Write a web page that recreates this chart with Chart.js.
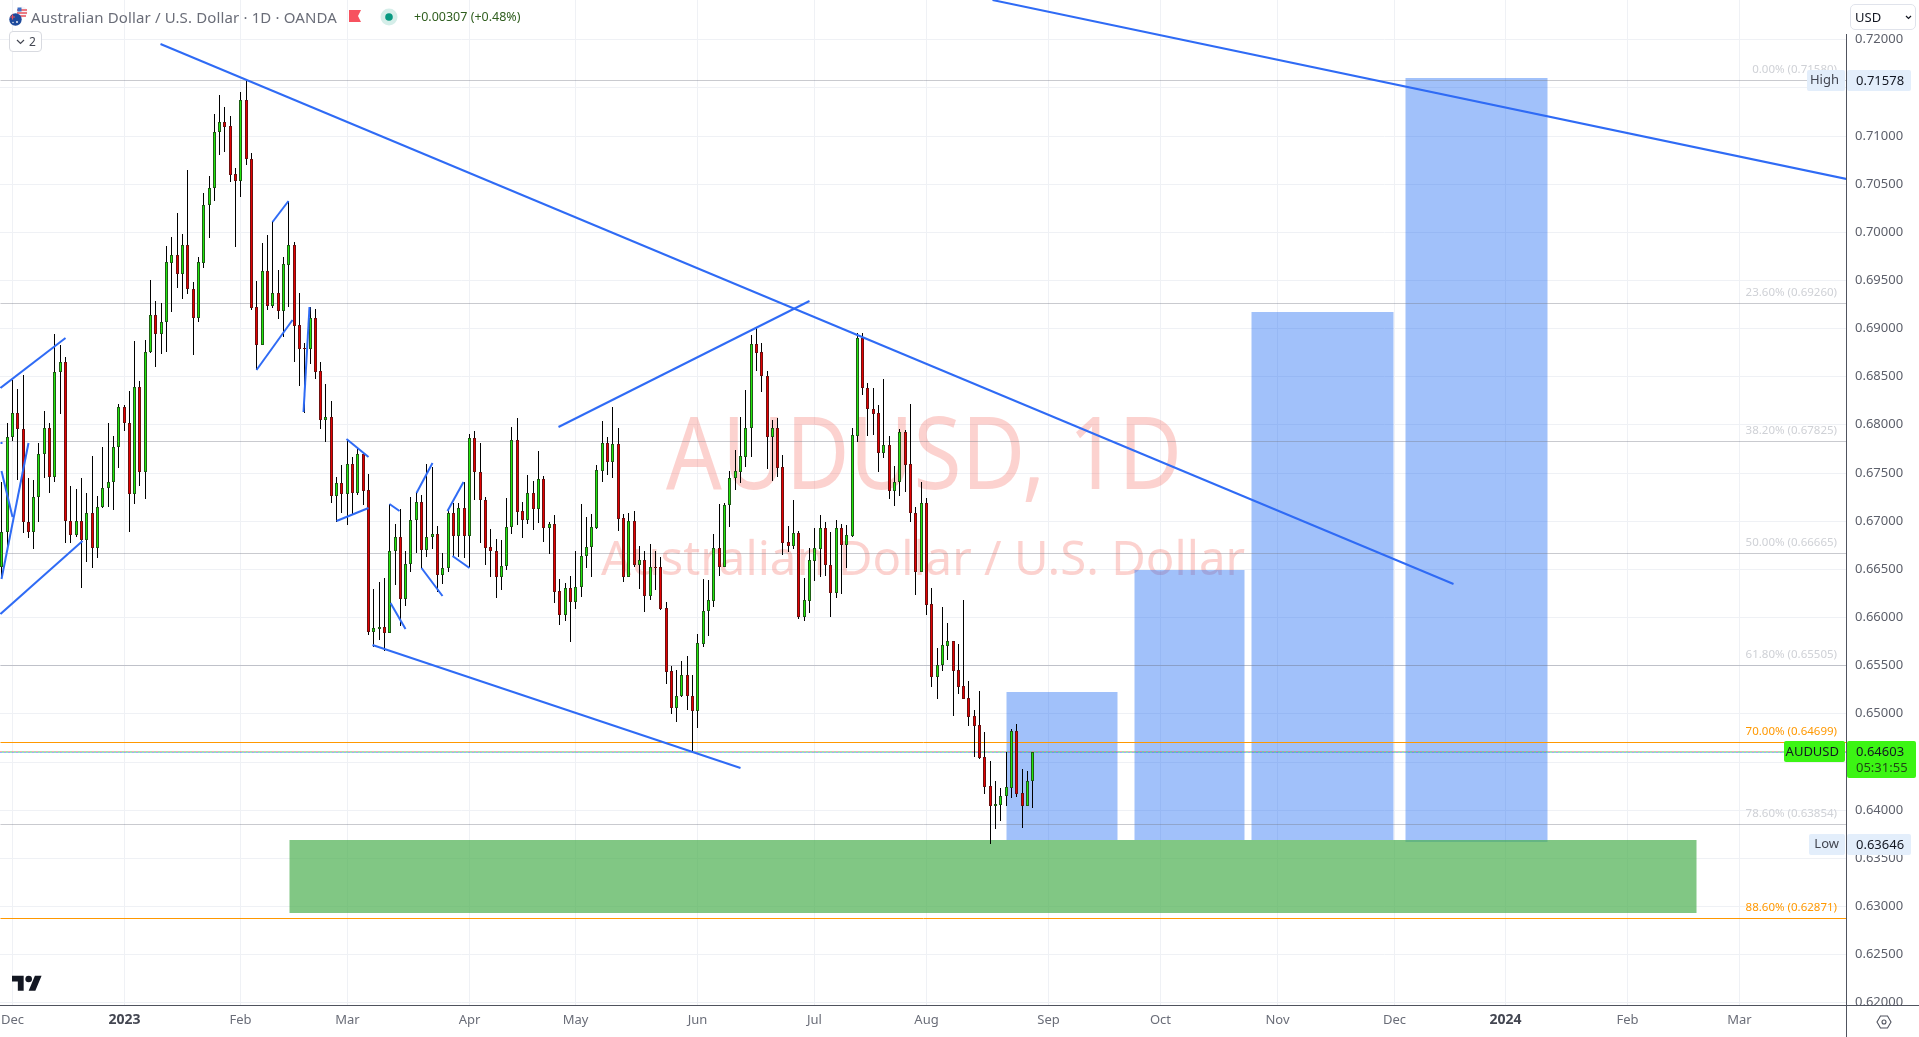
<!DOCTYPE html>
<html>
<head>
<meta charset="utf-8">
<title>AUDUSD</title>
<script src="https://cdn.jsdelivr.net/npm/chart.js@4"></script>
<style>
  html, body { margin: 0; padding: 0; background: #fff; overflow: hidden; }
  body { width: 1919px; height: 1037px; position: relative; font-family: "Noto Sans", sans-serif; }
  canvas { position: absolute; left: 0; top: 0; }
  .over { position: absolute; white-space: nowrap; }
</style>
</head>
<body>
<canvas id="chart" width="1919" height="1037"></canvas>

<!-- symbol header -->
<svg class="over" style="left:8px;top:5px" width="22" height="22" viewBox="0 0 22 22">
  <circle cx="14" cy="7" r="5.5" fill="#f4f4f8"/>
  <path d="M9 5h10M9 8h10M10 11h8" stroke="#e8505b" stroke-width="1.4"/>
  <path d="M9.5 2.5h4v4h-4z" fill="#3f6fc4"/>
  <circle cx="7.5" cy="14.5" r="6.2" fill="#1e4a9c"/>
  <path d="M2 12h5M4.5 9.5v5" stroke="#e8505b" stroke-width="1.2"/>
  <circle cx="9" cy="17" r=".9" fill="#fff"/><circle cx="5" cy="17.5" r=".7" fill="#fff"/>
</svg>
<div class="over" style="left:31px;top:7px;font-size:15px;letter-spacing:.14px;line-height:20px;color:#6a6d78;">Australian Dollar / U.S. Dollar · 1D · OANDA</div>
<svg class="over" style="left:349px;top:10px" width="13" height="12"><path d="M0 0H12L9 6L12 12H0Z" fill="#f7525f"/></svg>
<svg class="over" style="left:380px;top:8px" width="18" height="18"><circle cx="9" cy="9" r="8.5" fill="#d5eee9"/><circle cx="9" cy="9" r="3.8" fill="#089981"/></svg>
<div class="over" style="left:414px;top:8px;font-size:12.5px;line-height:18px;color:#2f5e1e;">+0.00307 (+0.48%)</div>
<div class="over" style="left:9px;top:31px;width:31px;height:19px;border:1px solid #d8dae0;border-radius:4px;background:#fff;font-size:12px;line-height:19px;color:#434651;">
  <svg style="position:absolute;left:6px;top:7px" width="9" height="6"><path d="M1 1L4.5 4.5L8 1" fill="none" stroke="#434651" stroke-width="1.2"/></svg>
  <span style="position:absolute;left:19px;top:0">2</span>
</div>

<!-- currency button -->
<div class="over" style="left:1850px;top:4px;width:64px;height:24px;border:1px solid #e0e3eb;border-radius:5px;background:#fff;font-size:13px;line-height:24px;color:#131722;">
  <span style="position:absolute;left:4px;top:0">USD</span>
  <svg style="position:absolute;left:54px;top:10px" width="7" height="5"><path d="M1 1L3.5 3.5L6 1" fill="none" stroke="#131722" stroke-width="1.2"/></svg>
</div>

<!-- logo and settings -->
<svg class="over" style="left:12px;top:972px" width="30" height="24" viewBox="0 0 36 28"><path fill="#131722" d="M14 22H7V11H0V4h14v18zM28 22h-8l7.5-18h8L28 22z"/><circle fill="#131722" cx="20" cy="8" r="4"/></svg>
<svg class="over" style="left:1876px;top:1014px" width="16" height="16" viewBox="0 0 16 16"><path d="M4.5 2h7L15 8l-3.5 6h-7L1 8z" fill="none" stroke="#50535e" stroke-width="1.1"/><circle cx="8" cy="8" r="2" fill="none" stroke="#50535e" stroke-width="1.1"/></svg>

<script>
// daily candles, Nov 2022 -> 29 Aug 2023, one entry per bar
const opens = [
  .66523,.66881,.67867,.68116,.67950,.66984,.66881,.67244,.67694,.67960,.67458,.68542,.68646,.67001,.66856,.66995,.66804,.67078,.66715,.67141,
  .67337,.67400,.67763,.68179,.68012,.67275,.68386,.67510,.68750,.69134,.68937,.69061,.69680,.69757,.69560,.69861,.69404,.69103,.69680,.70276,
  .70453,.71034,.71138,.71096,.70598,.70532,.71366,.70760,.69217,.68829,.69591,.69234,.69362,.69182,.69659,.69861,.69030,.68791,.68781,.69103,
  .68552,.68050,.68075,.67261,.67389,.67281,.67587,.67292,.67694,.67317,.65848,.65876,.65894,.65832,.66683,.66829,.66191,.66548,.67005,.67192,
  .66697,.66829,.66860,.66440,.66507,.67078,.66845,.67130,.66845,.67857,.67510,.67213,.66725,.66690,.66420,.66534,.66932,.67836,.67099,.67008,
  .67285,.67123,.67431,.66925,.66964,.66268,.66025,.66299,.66161,.66309,.66631,.66725,.66925,.67520,.67805,.67614,.67794,.67026,.66420,.66998,
  .66541,.66593,.66222,.66523,.66517,.66091,.65440,.65053,.65177,.65396,.65177,.65028,.65724,.66060,.66170,.66715,.66523,.67161,.67441,.67510,
  .67666,.67960,.68836,.68750,.68500,.67873,.67960,.67554,.66780,.66739,.66872,.66006,.66167,.66586,.66711,.66922,.66539,.66250,.66922,.66750,
  .66843,.67884,.68899,.68377,.68166,.68116,.67708,.67784,.67312,.67408,.67923,.67587,.67079,.66471,.67183,.66132,.65381,.65503,.65703,.65749,
  .65448,.65280,.65156,.64970,.64877,.64544,.64244,.64036,.64051,.64140,.64229,.64819,.64173,.64036,.64294
];
const closes = [
  .66881,.67867,.68116,.67950,.66984,.66881,.67244,.67694,.67960,.67458,.68542,.68646,.67001,.66856,.66995,.66804,.67078,.66715,.67141,.67337,
  .67400,.67763,.68179,.68012,.67275,.68386,.67510,.68750,.69134,.68937,.69061,.69684,.69757,.69560,.69861,.69404,.69103,.69684,.70276,.70453,
  .71034,.71138,.71092,.70594,.70532,.71366,.70760,.69213,.68829,.69591,.69234,.69362,.69182,.69663,.69861,.69026,.68787,.68781,.69103,.68548,
  .68050,.68075,.67261,.67389,.67281,.67587,.67292,.67694,.67313,.65845,.65884,.65894,.65832,.66683,.66829,.66191,.66548,.67008,.67192,.66697,
  .66829,.66860,.66440,.66507,.67078,.66845,.67130,.66845,.67857,.67510,.67213,.66721,.66690,.66420,.66534,.66932,.67836,.67094,.67008,.67285,
  .67123,.67431,.66925,.66967,.66264,.66025,.66299,.66161,.66309,.66631,.66725,.66932,.67524,.67805,.67614,.67794,.67022,.66420,.66998,.66541,
  .66593,.66222,.66517,.66510,.66084,.65433,.65053,.65177,.65396,.65177,.65028,.65728,.66060,.66174,.66715,.66523,.67161,.67441,.67514,.67673,
  .67960,.68836,.68746,.68500,.67873,.67960,.67551,.66769,.66739,.66872,.66000,.66174,.66590,.66715,.66922,.66536,.66250,.66922,.66750,.66851,
  .67888,.68896,.68374,.68166,.68109,.67708,.67784,.67312,.67408,.67923,.67584,.67079,.66471,.67183,.66128,.65381,.65506,.65706,.65749,.65445,
  .65277,.65152,.64966,.64873,.64540,.64240,.64036,.64057,.64140,.64233,.64819,.64168,.64036,.64294,.64603
];
const highs = [
  .67406,.68012,.68462,.68365,.68514,.67444,.67424,.67805,.68140,.68012,.68937,.68826,.68698,.67361,.67330,.67441,.67285,.67673,.67258,.67763,
  .68012,.67881,.68213,.68199,.68345,.68867,.68448,.68877,.69500,.69279,.69259,.69853,.69944,.70193,.69978,.70643,.69480,.69736,.70401,.70580,
  .71224,.71422,.71297,.71203,.70660,.71450,.71578,.70816,.69490,.69885,.69968,.70113,.69604,.69736,.70321,.69895,.69362,.68843,.69223,.69199,
  .68646,.68420,.68244,.67458,.67579,.67846,.67666,.67753,.67717,.67486,.66289,.66361,.66403,.67174,.66967,.67119,.66683,.67250,.67302,.67268,
  .67590,.67562,.66946,.66662,.67112,.67182,.67182,.67406,.67898,.67932,.67805,.67250,.66912,.66808,.66801,.67234,.67974,.68064,.67192,.67472,
  .67410,.67725,.67465,.66991,.67060,.66392,.66357,.66427,.66686,.67174,.67036,.67071,.67579,.68036,.67867,.68179,.67960,.67068,.67078,.67102,
  .66738,.66690,.66759,.66690,.66627,.66160,.65492,.65451,.65544,.65596,.65399,.65821,.66392,.66385,.66863,.67174,.67182,.67517,.67735,.68075,
  .68358,.68929,.68999,.68843,.68556,.68047,.68064,.67683,.66943,.67216,.66894,.66407,.66717,.66929,.67061,.66987,.66884,.67008,.66965,.66957,
  .67963,.68946,.68950,.68431,.68381,.68198,.68473,.67876,.67569,.67952,.67945,.68213,.67143,.67401,.67233,.66300,.65684,.66107,.65939,.65756,
  .65721,.66178,.65334,.65034,.65234,.64809,.64505,.64298,.64225,.64594,.64834,.64891,.64423,.64398,.64604
];
const lows = [
  .66406,.66718,.67832,.67424,.66876,.66818,.66704,.66991,.67441,.67292,.67406,.68109,.66773,.66766,.66835,.66299,.66575,.66513,.66617,.67130,
  .67146,.67112,.67551,.67936,.66887,.67178,.67364,.67230,.68743,.68600,.68732,.68756,.69165,.69421,.69306,.69355,.68725,.69067,.69628,.69940,
  .70324,.70802,.70833,.70521,.69846,.70365,.70695,.69189,.68566,.68826,.69189,.69207,.69095,.68912,.69223,.68652,.68403,.68123,.68628,.68472,
  .67956,.67821,.67188,.66991,.67078,.66956,.67067,.67268,.67164,.65814,.65686,.65762,.65651,.65832,.66333,.65908,.66118,.66471,.66662,.66507,
  .66627,.66704,.66264,.66344,.66471,.66627,.66627,.66611,.66517,.67216,.66773,.66541,.66420,.66202,.66281,.66489,.66863,.66956,.66824,.66967,
  .66905,.66980,.66783,.66655,.66150,.65918,.65960,.65745,.66084,.66212,.66507,.66413,.66912,.67406,.67476,.67448,.66897,.66368,.66420,.66523,
  .66292,.66056,.66178,.66281,.66074,.65305,.64994,.64914,.65173,.65035,.64602,.64852,.65693,.65807,.66108,.66427,.66523,.66939,.67320,.67389,
  .67562,.67666,.68556,.68340,.67538,.67413,.67458,.66640,.66676,.66711,.65981,.65960,.66042,.66378,.66417,.66429,.66006,.66203,.66239,.66514,
  .66829,.67819,.68305,.67884,.67894,.67509,.67652,.67230,.67158,.67258,.67304,.66990,.66232,.66464,.66024,.65277,.65149,.65445,.65555,.64977,
  .65206,.65149,.64873,.64551,.64530,.64168,.63646,.63804,.63886,.64040,.64125,.64136,.63814,.64036,.64019
];

// axes
const tickBars = [2, 23, 45, 65, 88, 108, 131, 153, 174, 197, 218, 240, 262, 283, 306, 327];
const tickLabels = ['Dec', '2023', 'Feb', 'Mar', 'Apr', 'May', 'Jun', 'Jul', 'Aug', 'Sep', 'Oct', 'Nov', 'Dec', '2024', 'Feb', 'Mar'];
const priceTicks = [.72, .715, .71, .705, .7, .695, .69, .685, .68, .675, .67, .665, .66, .655, .65, .645, .64, .635, .63, .625, .62];
const xMin = -0.245, xMax = 347.14, yMin = 0.61972, yMax = 0.72408;

// fibonacci retracement
const fibPrices = [.7158, .6926, .67825, .66665, .65505, .64699, .63854, .62871];
const fibLabels = ['0.00% (0.71580)', '23.60% (0.69260)', '38.20% (0.67825)', '50.00% (0.66665)', '61.80% (0.65505)', '70.00% (0.64699)', '78.60% (0.63854)', '88.60% (0.62871)'];
const fibOrange = [false, false, false, false, false, true, false, true];

// drawn trend lines [bar1, price1, bar2, price2]
const trendLines = [
  [29.79, .71948, 273.2, .66344],
  [186.4, .72408, 347.14, .70549],
  [104.8, .67977, 152.0, .69279],
  [69.76, .65715, 139.0, .64436],
  [-.245, .68379, 12.04, .68901],
  [-.245, .66032, 15.13, .66790],
  [-.06, .67517, 2.01, .67042],
  [-.06, .66396, 4.97, .67805],
  [-.245, .67805, .13, .67805],
  [47.93, .68566, 54.76, .69085],
  [50.88, .70106, 54.0, .70321],
  [56.83, .68133, 57.9, .69223],
  [64.92, .67846, 68.95, .67666],
  [62.98, .67001, 68.95, .67130],
  [72.96, .67171, 74.9, .67102],
  [73.15, .66146, 75.97, .65873],
  [77.98, .67285, 81.0, .67603],
  [78.92, .66513, 82.99, .66222],
  [83.87, .67099, 86.94, .67406],
  [84.87, .66635, 87.95, .66513]
];

// boxes [bar1, bar2, priceTop, priceBottom]
const blueBoxes = [
  [189.06, 209.95, .65222, .63685],
  [213.15, 233.85, .66489, .63685],
  [235.17, 261.9, .69168, .63685],
  [264.15, 290.87, .71598, .63665]
];
const greenBox = [54.14, 319.0, .63685, .62927];

const lastPrice = 0.64603, lowPrice = 0.63646, highPrice = 0.71578;

const fontName = '"Noto Sans", sans-serif';
const bars = opens.map((o, i) => i);
const isUp = i => closes[i] >= opens[i];

// TradingView snaps candles to whole pixels, so do the same
function snap(scale, shift) {
  if (scale._snapped) return;
  const orig = scale.getPixelForValue;
  scale.getPixelForValue = (v, i) => Math.round(orig.call(scale, v, i)) + shift;
  scale._snapped = true;
}

function flatLine(price, color, order, extra) {
  return Object.assign({
    type: 'line', crisp: true, order: order,
    data: [{ x: xMin, y: price }, { x: xMax, y: price }],
    borderColor: color, borderWidth: 1, pointRadius: 0
  }, extra || {});
}

const datasets = [];
trendLines.forEach(t => {
  datasets.push({
    type: 'line', order: 0,
    data: [{ x: t[0], y: t[1] }, { x: t[2], y: t[3] }],
    borderColor: '#2f6bf5', borderWidth: 2, pointRadius: 0
  });
});
datasets.push({
  type: 'bar', order: 1, grouped: false, maxBarThickness: 3, borderSkipped: false, borderWidth: 1,
  data: bars.map(i => ({ x: i, y: [Math.min(opens[i], closes[i]), Math.max(opens[i], closes[i])] })),
  backgroundColor: bars.map(i => isUp(i) ? '#22e50c' : '#e20000'),
  borderColor: bars.map(i => isUp(i) ? '#1d5e14' : '#6e0f0f')
});
datasets.push({
  type: 'bar', order: 2, grouped: false, maxBarThickness: 1,
  data: bars.map(i => ({ x: i, y: [lows[i], highs[i]] })),
  backgroundColor: '#000'
});
fibPrices.forEach((p, i) => {
  datasets.push(flatLine(p, fibOrange[i] ? '#ff9800' : 'rgba(120,123,134,0.4)', 3));
});
// last price: two rows of small coloured dots
datasets.push(flatLine(lastPrice + 0.0001, '#f4604a', 3, { borderDash: [1, 3] }));
datasets.push(flatLine(lastPrice + 0.0001, '#3ec46a', 3, { borderDash: [1, 3], borderDashOffset: 2 }));
datasets.push(flatLine(lastPrice, '#2962ff', 3, { borderDash: [1, 3] }));
datasets.push(flatLine(lastPrice, '#3ec46a', 3, { borderDash: [1, 3], borderDashOffset: 2 }));

const overlayPlugin = {
  id: 'overlay',
  beforeDatasetsDraw(chart) {
    const { ctx, scales: { x, y }, chartArea: a } = chart;
    ctx.save();
    ctx.beginPath(); ctx.rect(a.left, a.top, a.width, a.height); ctx.clip();
    // watermark
    ctx.fillStyle = 'rgba(244,67,54,0.24)';
    ctx.textAlign = 'center'; ctx.textBaseline = 'middle';
    ctx.font = '100px ' + fontName;
    ctx.fillText('AUDUSD, 1D', (a.left + a.right) / 2 + 1, 461, 516);
    ctx.font = '47.5px ' + fontName;
    ctx.fillText('Australian Dollar / U.S. Dollar', (a.left + a.right) / 2, 561, 644);
    // boxes
    ctx.fillStyle = 'rgba(20,100,242,0.4)';
    blueBoxes.forEach(b => {
      ctx.fillRect(x.getPixelForValue(b[0]), y.getPixelForValue(b[2]),
        x.getPixelForValue(b[1]) - x.getPixelForValue(b[0]), y.getPixelForValue(b[3]) - y.getPixelForValue(b[2]));
    });
    ctx.fillStyle = 'rgba(76,175,80,0.7)';
    ctx.fillRect(x.getPixelForValue(greenBox[0]), y.getPixelForValue(greenBox[2]),
      x.getPixelForValue(greenBox[1]) - x.getPixelForValue(greenBox[0]), y.getPixelForValue(greenBox[3]) - y.getPixelForValue(greenBox[2]));
    ctx.restore();
  },
  beforeDatasetDraw(chart, args) {
    if (chart.data.datasets[args.index].crisp) { chart.ctx.save(); chart.ctx.translate(0, 0.5); }
  },
  afterDatasetDraw(chart, args) {
    if (chart.data.datasets[args.index].crisp) chart.ctx.restore();
  },
  afterDraw(chart) {
    const { ctx, scales: { y }, chartArea: a } = chart;
    ctx.save();
    // cover the bottom tick label under the time axis, then frame lines
    ctx.fillStyle = '#fff';
    ctx.fillRect(a.right, a.bottom, 1919 - a.right, 1037 - a.bottom);
    ctx.fillStyle = '#50535e';
    ctx.fillRect(a.right, 34, 1, 1037 - 34);
    ctx.fillRect(0, a.bottom, 1919, 1);

    // fibonacci labels
    ctx.textAlign = 'right'; ctx.textBaseline = 'middle';
    ctx.font = '11.5px ' + fontName;
    fibPrices.forEach((p, i) => {
      ctx.fillStyle = fibOrange[i] ? '#ff9800' : '#cfd1d6';
      ctx.fillText(fibLabels[i], 1837, y.getPixelForValue(p) - 10.5);
    });

    // price tags
    ctx.font = '13px ' + fontName;
    const tag = (px, left, width, height, color) => {
      ctx.fillStyle = color;
      ctx.beginPath(); ctx.roundRect(left, px, width, height, 2); ctx.fill();
    };
    const write = (text, px, tx, align, color) => {
      ctx.fillStyle = color; ctx.textAlign = align;
      ctx.fillText(text, tx, px);
    };
    const hi = y.getPixelForValue(highPrice), lo = y.getPixelForValue(lowPrice), la = y.getPixelForValue(lastPrice);
    tag(hi - 10, 1807, 38, 21, '#e3eefb'); tag(hi - 10, 1847, 64, 21, '#e3eefb');
    write('High', hi, 1839, 'right', '#434651'); write('0.71578', hi + 1, 1856, 'left', '#131722');
    tag(lo - 10, 1809, 36, 21, '#e3eefb'); tag(lo - 10, 1847, 64, 21, '#e3eefb');
    write('Low', lo, 1839, 'right', '#434651'); write('0.63646', lo + 1, 1856, 'left', '#131722');
    tag(la - 11, 1784, 61, 21, '#3cf514'); tag(la - 11, 1847, 69, 37, '#3cf514');
    write('AUDUSD', la, 1839, 'right', '#131722');
    write('0.64603', la, 1856, 'left', '#131722');
    write('05:31:55', la + 16, 1856, 'left', '#1f4a14');
    ctx.restore();
  }
};

new Chart(document.getElementById('chart'), {
  type: 'bar',
  data: { datasets: datasets },
  options: {
    responsive: false,
    animation: false,
    devicePixelRatio: 1,
    parsing: true,
    layout: { padding: 0 },
    plugins: { legend: { display: false }, tooltip: { enabled: false } },
    scales: {
      x: {
        type: 'linear', min: xMin, max: xMax, offset: false,
        afterBuildTicks(scale) {
          scale.ticks = tickBars.map(v => ({ value: v }));
          snap(scale, 0.5);
        },
        afterFit(scale) { scale.height = 32; scale.paddingLeft = 0; scale.paddingRight = 0; },
        grid: { color: '#eff1f5', drawTicks: false, offset: false },
        border: { display: false },
        ticks: {
          autoSkip: false, maxRotation: 0, padding: 7,
          callback: (v, i) => tickLabels[i],
          color: c => /^\d/.test(tickLabels[c.index]) ? '#434651' : '#6a6d78',
          font: c => /^\d/.test(tickLabels[c.index])
            ? { family: fontName, size: 14, weight: 'bold' }
            : { family: fontName, size: 13 }
        }
      },
      y: {
        type: 'linear', position: 'right', min: yMin, max: yMax,
        afterBuildTicks(scale) {
          scale.ticks = priceTicks.map(v => ({ value: v }));
          snap(scale, 0);
        },
        afterFit(scale) { scale.width = 73; scale.paddingTop = 0; scale.paddingBottom = 0; },
        grid: { color: '#eff1f5', drawTicks: false },
        border: { display: false },
        ticks: {
          autoSkip: false, padding: 9, color: '#5d606b',
          font: { family: fontName, size: 13 },
          callback: v => v.toFixed(5)
        }
      }
    }
  },
  plugins: [overlayPlugin]
});
</script>
</body>
</html>
